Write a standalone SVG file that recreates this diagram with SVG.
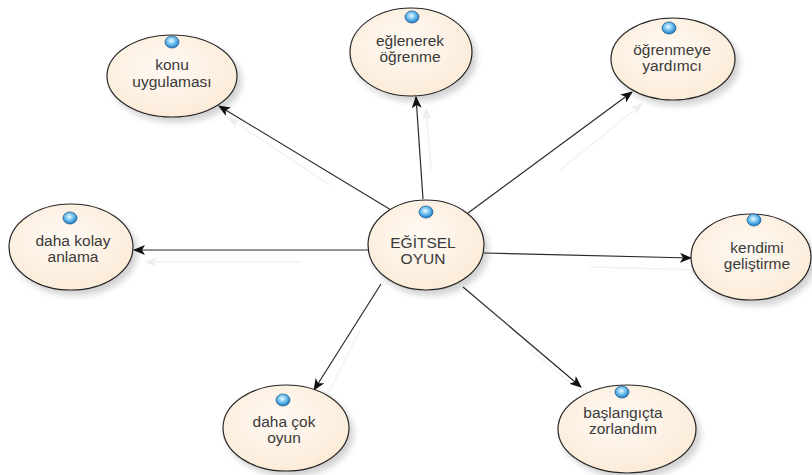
<svg xmlns="http://www.w3.org/2000/svg" width="812" height="475" viewBox="0 0 812 475">
<defs>
<radialGradient id="nodeFill" cx="45%" cy="40%" r="65%">
<stop offset="0" stop-color="#fffaf4"/>
<stop offset="1" stop-color="#fbead6"/>
</radialGradient>
<radialGradient id="ball" cx="45%" cy="40%" r="60%">
<stop offset="0" stop-color="#f0faff"/>
<stop offset="0.45" stop-color="#7cc8f2"/>
<stop offset="1" stop-color="#1a78c4"/>
</radialGradient>
<filter id="shadow" x="-20%" y="-20%" width="150%" height="150%">
<feGaussianBlur in="SourceAlpha" stdDeviation="3"/>
<feOffset dx="4" dy="5" result="b"/>
<feComponentTransfer><feFuncA type="linear" slope="0.18"/></feComponentTransfer>
<feMerge><feMergeNode/><feMergeNode in="SourceGraphic"/></feMerge>
</filter>
<marker id="arrow" viewBox="0 0 12 10" refX="11" refY="5" markerWidth="12" markerHeight="10" markerUnits="userSpaceOnUse" orient="auto">
<path d="M0,0 L12,5 L0,10 L3,5 z" fill="#111"/>
</marker>
<marker id="arrowFaint" viewBox="0 0 12 10" refX="11" refY="5" markerWidth="12" markerHeight="10" markerUnits="userSpaceOnUse" orient="auto">
<path d="M0,0 L12,5 L0,10 L3,5 z" fill="#eeeeee"/>
</marker>
</defs>
<style>
.node ellipse.body{fill:url(#nodeFill);stroke:#262626;stroke-width:1.2;filter:url(#shadow)}
.node ellipse.icon{fill:url(#ball);stroke:#245f94;stroke-width:0.8}
.node text{font-family:"Liberation Sans",Arial,sans-serif;font-size:15.5px;fill:#3a3a3a;text-anchor:middle}
.conn line{stroke:#2a2a2a;stroke-width:1.2;marker-end:url(#arrow)}
.shade line{stroke:#f2f2f2;stroke-width:1.5;marker-end:url(#arrowFaint)}
</style>
<rect width="812" height="475" fill="#ffffff"/>

<g id="connector-shadows" class="shade">
<line x1="330" y1="185" x2="229" y2="118"/>
<line x1="431" y1="170" x2="426" y2="109"/>
<line x1="560" y1="170" x2="642" y2="104"/>
<line x1="300" y1="262" x2="146" y2="262"/>
<line x1="590" y1="267" x2="701" y2="270"/>
<line x1="360" y1="330" x2="324" y2="402"/>
<line x1="530" y1="350" x2="591" y2="399"/>
</g>

<g id="connectors" class="conn">
<line x1="396" y1="213" x2="219" y2="106"/>
<line x1="423" y1="199" x2="416" y2="97"/>
<line x1="468" y1="213" x2="632" y2="92"/>
<line x1="368" y1="250" x2="134" y2="250"/>
<line x1="484" y1="253" x2="691" y2="258"/>
<line x1="381" y1="284" x2="314" y2="390"/>
<line x1="463" y1="287" x2="581" y2="387"/>
</g>

<g id="node-egitsel-oyun" class="node">
<ellipse class="body" cx="426" cy="245" rx="58" ry="45"/>
<ellipse class="icon" cx="426" cy="212" rx="7" ry="6"/>
<text x="423" y="248">EĞİTSEL</text>
<text x="423" y="264">OYUN</text>
</g>

<g id="node-konu-uygulamasi" class="node">
<ellipse class="body" cx="172" cy="76" rx="65" ry="41"/>
<ellipse class="icon" cx="172" cy="42" rx="7" ry="6"/>
<text x="172" y="70">konu</text>
<text x="172" y="87">uygulaması</text>
</g>

<g id="node-eglenerek-ogrenme" class="node">
<ellipse class="body" cx="411" cy="52" rx="61" ry="44"/>
<ellipse class="icon" cx="412" cy="17" rx="7" ry="6"/>
<text x="410" y="46">eğlenerek</text>
<text x="410" y="62">öğrenme</text>
</g>

<g id="node-ogrenmeye-yardimci" class="node">
<ellipse class="body" cx="673" cy="59" rx="62" ry="41"/>
<ellipse class="icon" cx="669" cy="28" rx="7" ry="6"/>
<text x="672" y="55">öğrenmeye</text>
<text x="672" y="71">yardımcı</text>
</g>

<g id="node-daha-kolay-anlama" class="node">
<ellipse class="body" cx="71" cy="247" rx="62" ry="43"/>
<ellipse class="icon" cx="70" cy="218" rx="7" ry="6"/>
<text x="73" y="246">daha kolay</text>
<text x="73" y="262">anlama</text>
</g>

<g id="node-kendimi-gelistirme" class="node">
<ellipse class="body" cx="751" cy="257" rx="60" ry="43"/>
<ellipse class="icon" cx="754" cy="220" rx="7" ry="6"/>
<text x="757" y="253">kendimi</text>
<text x="757" y="269">geliştirme</text>
</g>

<g id="node-daha-cok-oyun" class="node">
<ellipse class="body" cx="286" cy="428" rx="63" ry="43"/>
<ellipse class="icon" cx="283" cy="400" rx="7" ry="6"/>
<text x="284" y="427">daha çok</text>
<text x="284" y="443">oyun</text>
</g>

<g id="node-baslangicta-zorlandim" class="node">
<ellipse class="body" cx="627" cy="429" rx="69" ry="44"/>
<ellipse class="icon" cx="622" cy="392" rx="7" ry="6"/>
<text x="623" y="418">başlangıçta</text>
<text x="623" y="434">zorlandım</text>
</g>
</svg>
